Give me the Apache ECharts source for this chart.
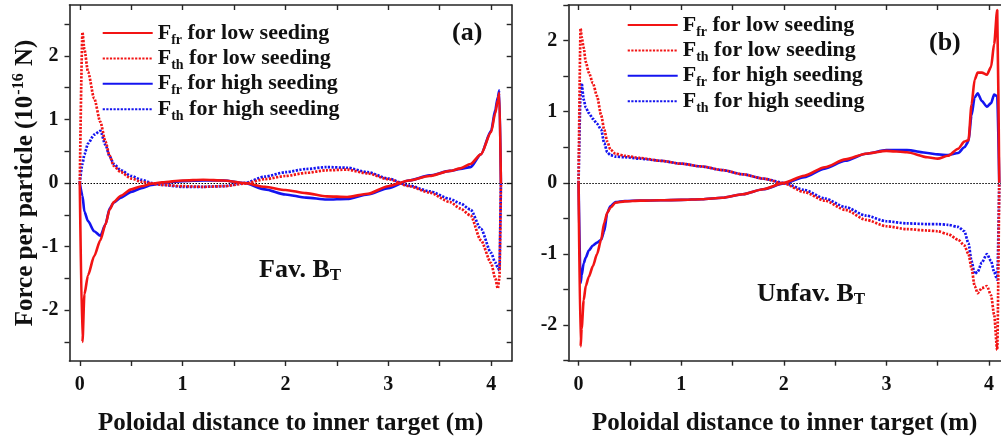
<!DOCTYPE html>
<html>
<head>
<meta charset="utf-8">
<script src="https://cdn.jsdelivr.net/npm/echarts@6/dist/echarts.min.js"></script>
<style>
  html, body { margin: 0; padding: 0; background: #fff; }
  #main { width: 1001px; height: 441px; }
</style>
</head>
<body>
<div id="main"></div>
<script>
// Poloidal distance (m) sample points, panel (a): favourable B_T
const favX = [0, 0.026, 0.045, 0.08, 0.14, 0.2, 0.25, 0.29, 0.33, 0.4, 0.5, 0.6, 0.7, 0.8, 1.0, 1.2, 1.4, 1.6, 1.8, 2.0, 2.2, 2.4, 2.6, 2.8, 3.0, 3.2, 3.4, 3.6, 3.7, 3.8, 3.9, 4.0, 4.04, 4.065, 4.08, 4.095];
// Force per particle (1e-16 N)
const favFfrLow  = [0, -2.5, -1.75, -1.45, -1.15, -0.9, -0.65, -0.42, -0.3, -0.2, -0.1, -0.05, -0.01, 0.01, 0.04, 0.05, 0.04, 0.0, -0.06, -0.11, -0.16, -0.21, -0.22, -0.17, -0.05, 0.04, 0.11, 0.19, 0.23, 0.3, 0.45, 0.8, 1.1, 1.3, 1.42, 0];
const favFthLow  = [0, 2.37, 2.1, 1.75, 1.33, 0.96, 0.65, 0.43, 0.27, 0.17, 0.07, 0.02, -0.01, -0.03, -0.05, -0.06, -0.05, -0.01, 0.06, 0.11, 0.16, 0.2, 0.21, 0.15, 0.06, -0.05, -0.15, -0.3, -0.4, -0.51, -0.9, -1.26, -1.5, -1.66, -1.5, 0];
const favFfrHigh = [0, -0.2, -0.45, -0.6, -0.76, -0.83, -0.65, -0.4, -0.31, -0.23, -0.14, -0.08, -0.03, 0.0, 0.03, 0.04, 0.04, 0.0, -0.1, -0.18, -0.23, -0.26, -0.25, -0.18, -0.08, 0.04, 0.12, 0.19, 0.22, 0.25, 0.45, 0.82, 1.15, 1.35, 1.46, 0];
const favFthHigh = [0, 0.3, 0.45, 0.62, 0.76, 0.82, 0.6, 0.42, 0.3, 0.2, 0.11, 0.05, 0.0, -0.03, -0.06, -0.06, -0.05, 0.0, 0.1, 0.17, 0.22, 0.25, 0.24, 0.17, 0.07, -0.04, -0.13, -0.25, -0.32, -0.42, -0.72, -1.1, -1.25, -1.33, -1.37, 0];

// Panel (b): unfavourable B_T
const unfavX = [0, 0.02, 0.03, 0.05, 0.07, 0.1, 0.14, 0.18, 0.22, 0.25, 0.28, 0.31, 0.36, 0.45, 0.6, 0.8, 1.0, 1.2, 1.4, 1.6, 1.8, 2.0, 2.2, 2.4, 2.6, 2.8, 3.0, 3.2, 3.4, 3.5, 3.6, 3.7, 3.76, 3.8, 3.83, 3.86, 3.89, 3.93, 3.98, 4.02, 4.05, 4.08, 4.1];
const unfavFfrLow  = [0, -2.3, -2.05, -1.65, -1.45, -1.32, -1.17, -1.0, -0.8, -0.56, -0.42, -0.35, -0.28, -0.26, -0.25, -0.245, -0.24, -0.23, -0.21, -0.16, -0.09, 0.0, 0.1, 0.22, 0.33, 0.41, 0.45, 0.43, 0.36, 0.34, 0.38, 0.48, 0.58, 0.6, 1.1, 1.45, 1.55, 1.55, 1.52, 1.63, 1.95, 2.43, 0];
const unfavFthLow  = [0, 2.17, 2.05, 1.9, 1.7, 1.55, 1.4, 1.22, 0.95, 0.75, 0.58, 0.47, 0.41, 0.38, 0.35, 0.31, 0.27, 0.23, 0.18, 0.12, 0.06, -0.01, -0.13, -0.25, -0.38, -0.52, -0.61, -0.65, -0.67, -0.68, -0.72, -0.8, -0.88, -1.0, -1.2, -1.45, -1.55, -1.48, -1.45, -1.58, -1.85, -2.35, 0];
const unfavFfrHigh = [0, -1.41, -1.3, -1.13, -1.05, -0.95, -0.88, -0.84, -0.8, -0.68, -0.42, -0.33, -0.27, -0.255, -0.25, -0.245, -0.24, -0.23, -0.21, -0.16, -0.09, -0.01, 0.08, 0.2, 0.31, 0.41, 0.46, 0.46, 0.42, 0.4, 0.39, 0.42, 0.5, 0.58, 0.95, 1.2, 1.26, 1.15, 1.07, 1.12, 1.24, 1.22, 0];
const unfavFthHigh = [0, 1.25, 1.4, 1.17, 1.06, 0.98, 0.9, 0.83, 0.75, 0.56, 0.43, 0.39, 0.37, 0.36, 0.34, 0.31, 0.27, 0.23, 0.18, 0.12, 0.06, 0.0, -0.1, -0.22, -0.34, -0.46, -0.54, -0.57, -0.58, -0.58, -0.59, -0.62, -0.68, -0.85, -1.1, -1.28, -1.25, -1.12, -1.0, -1.1, -1.25, -1.36, 0];

// Axis ticks and labels
const xTicks = [0, 0.5, 1, 1.5, 2, 2.5, 3, 3.5, 4];
const xLabels = [0, 1, 2, 3, 4];
const yTicks = [-2.5, -2, -1.5, -1, -0.5, 0, 0.5, 1, 1.5, 2, 2.5];
const yLabels = [-2, -1, 0, 1, 2];

// Legend entries (F with subscript, then text)
const seriesNames = ['F_fr for low seeding', 'F_th for low seeding', 'F_fr for high seeding', 'F_th for high seeding'];
const panelTags = ['(a)', '(b)'];
const fieldNames = ['Fav. B', 'Unfav. B'];

const RED = '#f21414';
const BLUE = '#1414f0';
const FRAME = '#262626';
const TXT = '#111';
const SERIF = '"Liberation Serif", "Times New Roman", serif';
const DOTS = [2.2, 1.4];

function pairs(xs, ys) { return xs.map((x, i) => [x, ys[i]]); }

const styles = [
  { color: RED, type: 'solid' },
  { color: RED, type: DOTS },
  { color: BLUE, type: 'solid' },
  { color: BLUE, type: DOTS }
];

function makeSeries(panel, xs, ysList) {
  return ysList.map((ys, i) => {
    const s = {
      name: seriesNames[i],
      type: 'line',
      xAxisIndex: panel * 2,
      yAxisIndex: panel * 2,
      data: pairs(xs, ys),
      symbol: 'none',
      smooth: 0.25,
      smoothMonotone: 'x',
      color: styles[i].color,
      lineStyle: { color: styles[i].color, width: i % 2 ? 2.7 : 2.6, type: styles[i].type },
      z: 4 - i + 2
    };
    if (i === 0) {
      s.markLine = {
        silent: true,
        symbol: 'none',
        label: { show: false },
        lineStyle: { color: '#000', width: 1, type: [1.5, 1.5] },
        data: [{ yAxis: 0 }],
        z: 1
      };
    }
    return s;
  });
}

function xAxes(grid, xMax) {
  const base = {
    gridIndex: grid, type: 'value', min: -0.1, max: xMax,
    splitLine: { show: false },
    axisLine: { onZero: false, lineStyle: { color: FRAME, width: 1.6 } }
  };
  return [
    Object.assign({}, base, {
      position: 'bottom',
      axisTick: { show: true, inside: false, length: 5, customValues: xTicks, lineStyle: { color: FRAME, width: 1.4 } },
      axisLabel: { customValues: xLabels, margin: 14, color: TXT, fontFamily: SERIF, fontWeight: 'bold', fontSize: 20 },
      name: 'Poloidal distance to inner target (m)',
      nameLocation: 'middle',
      nameGap: 50,
      nameTextStyle: { color: TXT, fontFamily: SERIF, fontWeight: 'bold', fontSize: 25 }
    }),
    Object.assign({}, base, {
      position: 'top',
      axisTick: { show: true, inside: true, length: 5, customValues: xTicks, lineStyle: { color: FRAME, width: 1.4 } },
      axisLabel: { show: false }
    })
  ];
}

function yAxes(grid, yMin, yMax, withName, showRight) {
  const base = {
    gridIndex: grid, type: 'value', min: yMin, max: yMax,
    splitLine: { show: false },
    axisLine: { onZero: false, lineStyle: { color: FRAME, width: 1.6 } }
  };
  const left = Object.assign({}, base, {
    position: 'left',
    axisTick: { show: true, inside: false, length: 5, customValues: yTicks, lineStyle: { color: FRAME, width: 1.4 } },
    axisLabel: { customValues: yLabels, margin: 11, color: TXT, fontFamily: SERIF, fontWeight: 'bold', fontSize: 20 }
  });
  if (withName) {
    Object.assign(left, {
      name: '{m|Force per particle (10}{sup|-16}{m| N)}',
      nameLocation: 'middle',
      nameGap: 29,
      nameTextStyle: {
        rich: {
          m: { color: TXT, fontFamily: SERIF, fontWeight: 'bold', fontSize: 25 },
          sup: { color: TXT, fontFamily: SERIF, fontWeight: 'bold', fontSize: 16, padding: [0, 1, 14, 1] }
        }
      }
    });
  }
  return [
    left,
    Object.assign({}, base, {
      show: showRight,
      position: 'right',
      axisTick: { show: true, inside: true, length: 5, customValues: yTicks, lineStyle: { color: FRAME, width: 1.4 } },
      axisLabel: { show: false }
    })
  ];
}

const legendRich = {
  m: { color: TXT, fontFamily: SERIF, fontWeight: 'bold', fontSize: 22, lineHeight: 25 },
  s: { color: TXT, fontFamily: SERIF, fontWeight: 'bold', fontSize: 14, lineHeight: 25, padding: [14, 0, 0, 0] }
};

function legend(left, top) {
  return {
    data: seriesNames,
    orient: 'vertical',
    left: left, top: top,
    itemWidth: 50, itemHeight: 14, itemGap: -2.6,
    padding: 0,
    selectedMode: false,
    itemStyle: { opacity: 0 },
    formatter: name => name.replace(/^F_(\w+)(.*)$/, '{m|F}{s|$1}{m|$2}'),
    textStyle: { rich: legendRich }
  };
}

function label(text, left, top) {
  return {
    text: text, left: left, top: top, padding: 0,
    textStyle: {
      rich: {
        m: { color: TXT, fontFamily: SERIF, fontWeight: 'bold', fontSize: 26, lineHeight: 28 },
        s: { color: TXT, fontFamily: SERIF, fontWeight: 'bold', fontSize: 17, lineHeight: 28, padding: [12, 0, 0, 0] }
      }
    }
  };
}

const option = {
  animation: false,
  backgroundColor: '#fff',
  grid: [
    { left: 69.5, right: 489.3, top: 5, bottom: 78.3 },
    { left: 568.3, right: 0, top: 5, bottom: 80.3 }
  ],
  xAxis: [...xAxes(0, 4.2), ...xAxes(1, 4.117)],
  yAxis: [...yAxes(0, -2.8, 2.8, true, true), ...yAxes(1, -2.5, 2.5, false, false)],
  legend: [legend(101.7, 19), legend(626.7, 11)],
  title: [
    label('{m|' + panelTags[0] + '}', 452, 19),
    label('{m|' + panelTags[1] + '}', 929, 29),
    label('{m|' + fieldNames[0] + '}{s|T}', 259, 256),
    label('{m|' + fieldNames[1] + '}{s|T}', 757, 280)
  ],
  series: [
    ...makeSeries(0, favX, [favFfrLow, favFthLow, favFfrHigh, favFthHigh]),
    ...makeSeries(1, unfavX, [unfavFfrLow, unfavFthLow, unfavFfrHigh, unfavFthHigh])
  ]
};

const chart = echarts.init(document.getElementById('main'), null, { renderer: 'canvas' });
chart.setOption(option);
</script>
</body>
</html>
